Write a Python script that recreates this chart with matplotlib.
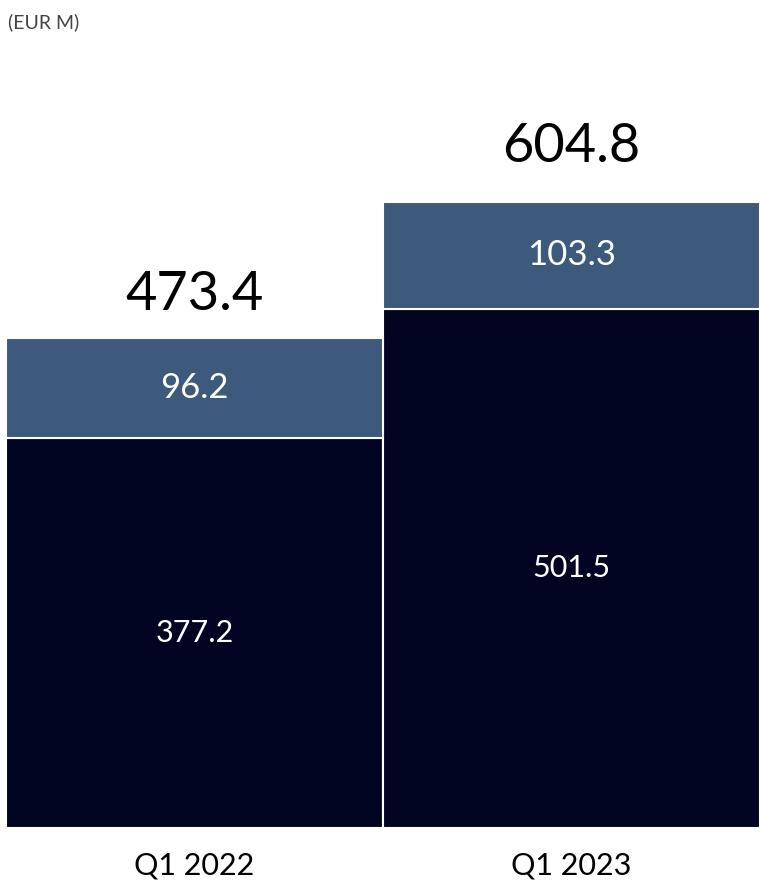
import matplotlib
matplotlib.use("Agg")
import matplotlib.pyplot as plt

plt.rcParams['font.family'] = ['Lato', 'DejaVu Sans']

quarters = ['Q1 2022', 'Q1 2023']
base_values = [377.2, 501.5]
top_values = [96.2, 103.3]
totals = [473.4, 604.8]

dark_navy = '#010522'
steel_blue = '#3d5a7c'

fig = plt.figure(figsize=(7.6, 8.8), dpi=100)
ax = fig.add_axes([6 / 760, 52 / 880, 754 / 760, 828 / 880])

x = range(len(quarters))
ax.bar(x, base_values, width=1.0, color=dark_navy, edgecolor='white', linewidth=1.5)
ax.bar(x, top_values, width=1.0, bottom=base_values, color=steel_blue,
       edgecolor='white', linewidth=1.5)

# segment labels
for i in x:
    ax.text(i, base_values[i] / 2, f'{base_values[i]:.1f}', ha='center', va='center',
            color='white', fontsize=22)
    ax.text(i, base_values[i] + top_values[i] / 2, f'{top_values[i]:.1f}', ha='center',
            va='center', color='white', fontsize=25)

# totals above the stacks
total_pad = [14, 22]
for i in x:
    ax.annotate(f'{totals[i]:.1f}', xy=(i, totals[i]), xytext=(0, total_pad[i]),
                textcoords='offset points', ha='center', va='bottom',
                fontsize=39, color='black')

ax.set_xlim(-0.5, 1.5)
ax.set_ylim(0, 800)
ax.set_xticks(list(x))
ax.set_xticklabels(quarters, fontsize=22)
ax.tick_params(axis='x', length=0, pad=17)
ax.set_yticks([])
for side in ax.spines.values():
    side.set_visible(False)

fig.text(8 / 760, 1 - 22 / 880, '(EUR M)', fontsize=14, color='#444444',
         ha='left', va='center')

fig.savefig('out.png', dpi=100)
